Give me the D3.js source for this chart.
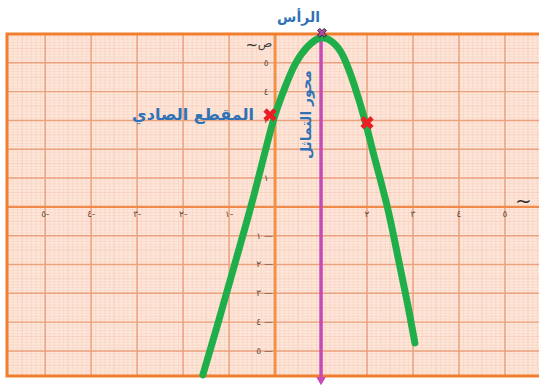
<!DOCTYPE html>
<html>
<head>
<meta charset="utf-8">
<script src="https://cdn.jsdelivr.net/npm/d3@7"></script>
<style>
  html, body { margin: 0; padding: 0; background: #fff; }
  svg { display: block; }
  text { font-family: "DejaVu Sans", sans-serif; }
</style>
</head>
<body>
<svg width="539" height="385"></svg>
<script>
// valores
const xTicks = [-5, -4, -3, -2, -1, 1, 2, 3, 4, 5];
const xTickLabels = ['٥-', '٤-', '٣-', '٢-', '١-', '١', '٢', '٣', '٤', '٥'];
const yTicks = [5, 4, 3, 2, 1, -1, -2, -3, -4, -5];
const yTickLabels = ['٥', '٤', '٣', '٢', '١', '١ —', '٢ —', '٣ —', '٤ —', '٥ —'];

// parábola desenhada à mão
const curveX = [-1.57, -1.28, -0.87, -0.52, -0.17, 0.00, 0.22, 0.43, 0.70, 1.00,
                1.24, 1.48, 1.74, 1.96, 2.17, 2.46, 2.67, 2.87, 3.04];
const curveY = [-5.83, -4.27, -1.94, 0.00, 2.22, 3.26, 4.17, 5.00, 5.60, 5.95,
                5.77, 5.35, 4.17, 3.02, 1.63, -0.03, -1.74, -3.23, -4.72];

const markX = [-0.11, 2.0];
const markY = [3.19, 2.92];
const vertex = [1.02, 6.04];
const symmetryX = 1;

const labels = {
  vertex: 'الرأس',
  intercept: 'المقطع الصادي',
  symmetry: 'محور التماثل',
  yName: 'ص',
  xName: 'س'
};

function drawChart() {
  const svg = d3.select("svg");

  const x = d3.scaleLinear().domain([-5.83, 5.74]).range([7, 539]);
  const y = d3.scaleLinear().domain([6.0, -5.87]).range([34, 376]);

  const blue = "#2f72b5";

  // fundo do papel milimetrado
  svg.append("rect")
    .attr("x", x(-5.83)).attr("y", y(6))
    .attr("width", x(5.74) - x(-5.83)).attr("height", y(-5.87) - y(6))
    .attr("fill", "#fde6da");

  const grid = svg.append("g");
  const minorX = d3.range(-58, 58).map(d => d / 10);
  const minorY = d3.range(-58, 61).map(d => d / 10);

  // linhas finas
  grid.selectAll(".vx").data(minorX).join("line")
    .attr("x1", d => x(d)).attr("x2", d => x(d))
    .attr("y1", y(6)).attr("y2", y(-5.87))
    .attr("stroke", "#f3b598")
    .attr("stroke-opacity", d => Math.abs(Math.round(d * 10) % 5) === 0 ? 0.5 : 0.25)
    .attr("stroke-width", 0.8);
  grid.selectAll(".hy").data(minorY).join("line")
    .attr("y1", d => y(d)).attr("y2", d => y(d))
    .attr("x1", x(-5.83)).attr("x2", x(5.74))
    .attr("stroke", "#f3b598")
    .attr("stroke-opacity", d => Math.abs(Math.round(d * 10) % 5) === 0 ? 0.5 : 0.25)
    .attr("stroke-width", 0.8);

  // linhas principais
  grid.selectAll(".mx").data(d3.range(-5, 6)).join("line")
    .attr("x1", d => x(d)).attr("x2", d => x(d))
    .attr("y1", y(6)).attr("y2", y(-5.87))
    .attr("stroke", "#eba07e").attr("stroke-width", 1.4);
  grid.selectAll(".my").data(d3.range(-5, 6)).join("line")
    .attr("y1", d => y(d)).attr("y2", d => y(d))
    .attr("x1", x(-5.83)).attr("x2", x(5.74))
    .attr("stroke", "#eba07e").attr("stroke-width", 1.4);

  // Eixos
  svg.append("line")
    .attr("x1", x(-5.83)).attr("x2", x(5.74)).attr("y1", y(0)).attr("y2", y(0))
    .attr("stroke", "#ef8a4a").attr("stroke-width", 2.2);
  svg.append("line")
    .attr("x1", x(0)).attr("x2", x(0)).attr("y1", y(6)).attr("y2", y(-5.87))
    .attr("stroke", "#f39048").attr("stroke-width", 3);

  // moldura
  svg.append("path")
    .attr("d", `M${x(5.74) + 2},${y(6)}H${x(-5.83)}V${y(-5.87)}H${x(5.74) + 2}`)
    .attr("fill", "none").attr("stroke", "#ef7e2e").attr("stroke-width", 3);

  // rótulos dos eixos
  svg.append("g").selectAll("text").data(xTicks).join("text")
    .attr("x", d => d < 0 ? x(d) - 4 : x(d))
    .attr("y", y(0) + 10)
    .attr("text-anchor", d => d < 0 ? "start" : "middle")
    .attr("font-size", 9)
    .attr("fill", "#5a4d48")
    .text((d, i) => xTickLabels[i]);

  svg.append("g").selectAll("text").data(yTicks).join("text")
    .attr("x", d => d < 0 ? x(0) - 2 : x(0) - 9)
    .attr("y", d => y(d) + 3)
    .attr("text-anchor", d => d < 0 ? "end" : "middle")
    .attr("font-size", 9)
    .attr("fill", "#5a4d48")
    .text((d, i) => yTickLabels[i]);

  svg.append("text")
    .attr("x", x(0) - 10).attr("y", y(5.55))
    .attr("text-anchor", "middle").attr("font-size", 12).attr("fill", "#444")
    .text(labels.yName);
  svg.append("text")
    .attr("x", x(0) - 17).attr("y", y(5.45))
    .attr("text-anchor", "end")
    .attr("font-size", 15).attr("fill", "#333")
    .text("~");
  svg.append("text")
    .attr("x", x(5.22)).attr("y", y(-0.05))
    .attr("font-size", 20).attr("fill", "#333")
    .text("~");

  // eixo de simetria
  svg.append("line")
    .attr("x1", x(symmetryX)).attr("x2", x(symmetryX))
    .attr("y1", y(6.1)).attr("y2", y(-6.02))
    .attr("stroke", "#c64bb5").attr("stroke-width", 3.5);
  svg.append("path")
    .attr("d", d3.symbol(d3.symbolTriangle, 40)())
    .attr("transform", `translate(${x(symmetryX)},${y(-6.0)}) rotate(180)`)
    .attr("fill", "#c64bb5");

  // parábola
  const pts = curveX.map((d, i) => [d, curveY[i]]);
  const line = d3.line()
    .x(d => x(d[0]))
    .y(d => y(d[1]))
    .curve(d3.curveBasis);
  svg.append("path")
    .datum(pts)
    .attr("d", line)
    .attr("fill", "none")
    .attr("stroke", "#1fae4a")
    .attr("stroke-width", 7)
    .attr("stroke-linecap", "round")
    .attr("stroke-linejoin", "round");

  // marcas vermelhas
  svg.append("g").selectAll("path").data(markX).join("path")
    .attr("d", d3.symbol(d3.symbolCross, 110)())
    .attr("transform", (d, i) => `translate(${x(d)},${y(markY[i])}) rotate(45)`)
    .attr("fill", "#ee1c25");

  // vértice
  svg.append("path")
    .attr("d", d3.symbol(d3.symbolCross, 50)())
    .attr("transform", `translate(${x(vertex[0])},${y(vertex[1])}) rotate(45)`)
    .attr("fill", "#b048a8").attr("stroke", "#222").attr("stroke-width", 0.8);

  // textos
  svg.append("text")
    .attr("x", x(vertex[0]) - 2).attr("y", 22)
    .attr("text-anchor", "end").attr("font-size", 14).attr("font-weight", "bold")
    .attr("fill", blue)
    .text(labels.vertex);

  svg.append("text")
    .attr("x", x(markX[0]) - 16).attr("y", y(markY[0]) + 5)
    .attr("text-anchor", "end").attr("font-size", 16).attr("font-weight", "bold")
    .attr("fill", blue)
    .text(labels.intercept);

  svg.append("text")
    .attr("transform", `translate(${x(symmetryX) - 10},${y(3.2)}) rotate(-90)`)
    .attr("text-anchor", "middle").attr("font-size", 14).attr("font-weight", "bold")
    .attr("fill", blue)
    .text(labels.symmetry);
}

drawChart();
</script>
</body>
</html>
